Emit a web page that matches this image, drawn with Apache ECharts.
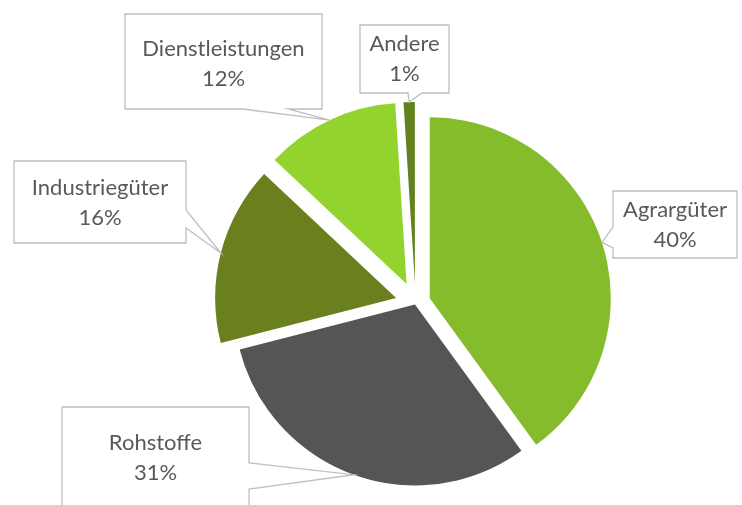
<!DOCTYPE html>
<html><head><meta charset="utf-8">
<script src="https://cdn.jsdelivr.net/npm/echarts@6/dist/echarts.min.js"></script>
<style>html,body{margin:0;padding:0;background:#fff}#c{width:742px;height:505px}</style>
</head><body><div id="c"></div>
<script>
// ---- data ----
const categories = ['Agrargüter', 'Rohstoffe', 'Industriegüter', 'Dienstleistungen', 'Andere'];
const shares = [40, 31, 16, 12, 1];

// ---- styling / layout (not data) ----
const colors = ['#84BC2B', '#555555', '#6A801E', '#92D32E', '#62811F'];
const explode = [15, 1.5, 20, 21, 20];   // per-slice explosion (px)
const CENTER = [415.5, 303];
const RADIUS = 181;
// callout boxes: left, top, right, bottom, first-line centre y, pointer side, pointer base offsets along that side
const callouts = [
  { l: 613, t: 191, r: 737, b: 258, y1: 210,   side: 'left',   base: [36, 57] },
  { l: 62,  t: 407, r: 249, b: 540, y1: 442.5, side: 'right',  base: [56, 82] },
  { l: 14,  t: 161, r: 186, b: 243, y1: 187.5, side: 'right',  base: [49, 67] },
  { l: 125, t: 14,  r: 322, b: 109, y1: 48.5,  side: 'bottom', base: [118, 163] },
  { l: 360, t: 25,  r: 449, b: 93,  y1: 44,    side: 'bottom', base: [48, 62] }
];
const LH = 30;
const FONT = '22px Lato';

const chart = echarts.init(document.getElementById('c'), null, { renderer: 'canvas' });

// one pie layer per slice so every slice can be exploded by its own distance;
// all layers share the same data, so angles come from the library's own pie layout
const series = categories.map((_, k) => ({
  type: 'pie',
  center: CENTER,
  radius: RADIUS,
  startAngle: 90,
  clockwise: true,
  silent: true,
  selectedMode: 'multiple',
  selectedOffset: explode[k],
  emphasis: { disabled: true },
  label: { show: false },
  labelLine: { show: false },
  data: categories.map((name, i) => ({
    name: name,
    value: shares[i],
    selected: i === k,
    itemStyle: { color: i === k ? colors[i] : 'rgba(0,0,0,0)', borderWidth: 0 }
  }))
}));

chart.setOption({
  backgroundColor: '#ffffff',
  animation: false,
  series: series
});

// callouts pointing to each slice, tips taken from the library's pie layout
const graphics = [];
categories.forEach((name, i) => {
  const sData = chart.getModel().getSeriesByIndex(i).getData();
  const lay = sData.getItemLayout(i);
  const mid = (lay.startAngle + lay.endAngle) / 2;
  const rr = lay.r + explode[i];
  const tip = [lay.cx + Math.cos(mid) * rr, lay.cy + Math.sin(mid) * rr];
  const c = callouts[i];
  let pts;
  if (c.side === 'left') {
    pts = [[c.l, c.t], [c.r, c.t], [c.r, c.b], [c.l, c.b], [c.l, c.t + c.base[1]], tip, [c.l, c.t + c.base[0]]];
  } else if (c.side === 'right') {
    pts = [[c.l, c.t], [c.r, c.t], [c.r, c.t + c.base[0]], tip, [c.r, c.t + c.base[1]], [c.r, c.b], [c.l, c.b]];
  } else {
    pts = [[c.l, c.t], [c.r, c.t], [c.r, c.b], [c.l + c.base[1], c.b], tip, [c.l + c.base[0], c.b], [c.l, c.b]];
  }
  graphics.push({
    type: 'polygon',
    z: 10,
    shape: { points: pts },
    style: { fill: '#ffffff', stroke: '#BFBFBF', lineWidth: 1.3 }
  });
  graphics.push({
    type: 'text',
    z: 11,
    style: {
      text: name + '\n' + shares[i] + '%',
      x: (c.l + c.r) / 2,
      y: c.y1 - LH / 2,
      align: 'center',
      verticalAlign: 'top',
      font: FONT,
      lineHeight: LH,
      fill: '#595959'
    }
  });
});
chart.setOption({ graphic: graphics });
</script></body></html>
